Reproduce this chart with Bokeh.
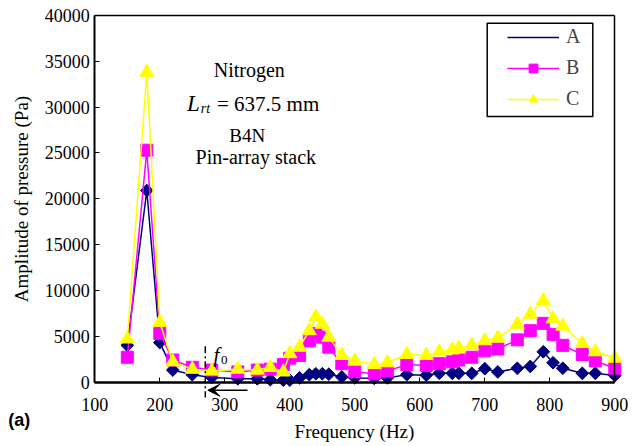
import numpy as np
from bokeh.plotting import figure
from bokeh.models import (Range1d, FixedTicker, Legend, LegendItem, Label,
                          Arrow, VeeHead, BoxAnnotation, LinearAxis)
from bokeh.embed import file_html
from bokeh.resources import INLINE

freq = [150, 180, 200, 220, 250, 280, 320, 350, 370, 390, 400, 415, 430, 440,
        450, 460, 480, 500, 530, 550, 580, 610, 630, 650, 660, 680, 700, 720,
        750, 770, 790, 805, 820, 850, 870, 900]
amp_a = [4000, 20900, 4300, 1300, 800, 500, 350, 350, 250, 200, 200, 450, 800,
         900, 900, 850, 550, 450, 400, 450, 800, 750, 950, 950, 950, 950, 1450,
         1100, 1500, 1700, 3300, 2100, 1500, 950, 950, 700]
amp_b = [2700, 25300, 5300, 2400, 1600, 1300, 1100, 1300, 1400, 1900, 2600,
         2900, 4500, 5300, 4900, 3800, 2000, 1100, 900, 1200, 1900, 1800, 2000,
         2200, 2400, 2700, 3400, 3600, 4600, 5600, 6400, 5200, 4000, 3000, 2300,
         1500]
amp_c = [4700, 33800, 6500, 2200, 1400, 1200, 1400, 1300, 1600, 1100, 3100,
         3800, 5600, 7100, 6300, 4900, 2900, 2300, 1900, 2100, 3000, 2900, 3300,
         3500, 3700, 4000, 4500, 4800, 6300, 7400, 8900, 6900, 6100, 4200, 3300,
         2600]
series_names = ["A", "B", "C"]
x_ticks = [100, 200, 300, 400, 500, 600, 700, 800, 900]
y_ticks = [0, 5000, 10000, 15000, 20000, 25000, 30000, 35000, 40000]
x_lim = (100, 900)
y_lim = (0, 40000)
f0 = 270

SERIF = "'Liberation Serif', 'Times New Roman', serif"
SANS = "'Liberation Sans', Arial, sans-serif"

# the frame spans the whole canvas; the axes sit at fixed locations so that
# texts below / left of the axes can be drawn as annotations
W, H = 642, 446
L0, R0, T0, B0 = 94.3, 614.3, 15.0, 381.5   # plotting box in pixels
kx = (x_lim[1] - x_lim[0]) / (R0 - L0)
ky = (y_lim[1] - y_lim[0]) / (B0 - T0)
xr = Range1d(x_lim[0] - L0 * kx, x_lim[1] + (W - R0) * kx)
yr = Range1d(y_lim[0] - (H - B0) * ky, y_lim[1] + T0 * ky)

p = figure(width=W, height=H, output_backend="svg", toolbar_location=None,
           x_range=xr, y_range=yr, min_border=0)
p.xgrid.visible = False
p.ygrid.visible = False
p.outline_line_alpha = 0

xa, ya = p.xaxis[0], p.yaxis[0]
xa.fixed_location = y_lim[0]
ya.fixed_location = x_lim[0]
xa.bounds = x_lim
ya.bounds = y_lim

for ax in (xa, ya):
    ax.major_tick_in = 5
    ax.major_tick_out = 0
    ax.minor_tick_in = 0
    ax.minor_tick_out = 0
    ax.axis_line_color = "black"
    ax.major_tick_line_color = "black"
    ax.major_label_text_font = SERIF
    ax.major_label_text_font_size = "18px"
    ax.major_label_text_color = "black"
    ax.axis_label_text_font = SERIF
    ax.axis_label_text_font_size = "19px"
    ax.axis_label_text_font_style = "normal"
    ax.axis_label_text_color = "black"

xa.ticker = FixedTicker(ticks=x_ticks)
ya.ticker = FixedTicker(ticks=y_ticks)
xa.axis_line_width = 2.5
ya.axis_line_width = 2
xa.major_label_standoff = 16
ya.major_label_standoff = 5
xa.axis_label = "Frequency (Hz)"
ya.axis_label = "Amplitude of pressure (Pa)"
xa.axis_label_standoff = 6
ya.axis_label_standoff = 10

# top and right edges of the box
top = LinearAxis(fixed_location=y_lim[1], bounds=x_lim,
                 ticker=FixedTicker(ticks=[]), axis_line_width=1.5,
                 major_label_text_alpha=0, major_tick_line_alpha=0,
                 minor_tick_line_alpha=0)
right = LinearAxis(fixed_location=x_lim[1], bounds=y_lim,
                   ticker=FixedTicker(ticks=[]), axis_line_width=1.5,
                   major_label_text_alpha=0, major_tick_line_alpha=0,
                   minor_tick_line_alpha=0)
p.add_layout(top, "above")
p.add_layout(right, "right")

col_a, col_b, col_c = "#000080", "#FF00FF", "#FFFF00"

la = p.line(freq, amp_a, line_color=col_a, line_width=1.5)
ma = p.scatter(freq, amp_a, marker="square", angle=np.pi / 4, size=9,
               fill_color=col_a, line_color=col_a)
lb = p.line(freq, amp_b, line_color=col_b, line_width=1.5)
mb = p.scatter(freq, amp_b, marker="square", size=12,
               fill_color=col_b, line_color=col_b)
lc = p.line(freq, amp_c, line_color=col_c, line_width=1.5)
mc = p.scatter(freq, amp_c, marker="triangle", size=14,
               fill_color=col_c, line_color=col_c)
# legend-only glyph for the diamond (legend markers are drawn unrotated)
ka = p.scatter([], [], marker="diamond", size=15, fill_color=col_a,
               line_color=col_a)

legend = Legend(items=[LegendItem(label=series_names[0], renderers=[la, ka]),
                       LegendItem(label=series_names[1], renderers=[lb, mb]),
                       LegendItem(label=series_names[2], renderers=[lc, mc])],
                location=(507, H - 110), padding=0, margin=0, spacing=8,
                glyph_width=52, glyph_height=22, label_height=22,
                label_standoff=7, label_text_font=SERIF,
                label_text_font_size="20px", border_line_alpha=0,
                background_fill_alpha=0)
p.add_layout(legend)

p.add_layout(BoxAnnotation(left=486.7, right=592.3, top=22.7, bottom=116,
                           left_units="canvas", right_units="canvas",
                           top_units="canvas", bottom_units="canvas",
                           fill_alpha=0, line_color="black", line_width=1.5,
                           line_alpha=1.0))

def lab(x, y, text, size, style="normal", font=SERIF):
    p.add_layout(Label(x=x, y=y, text=text, text_font=font,
                       text_font_size=size, text_font_style=style,
                       text_color="black", text_align="left",
                       text_baseline="alphabetic"))

lab(283, 34000, "Nitrogen", "20px")
lab(242, 30360, "L", "23px", "italic")
lab(263, 29850, "rt", "14px", "italic")
lab(288, 30360, "= 637.5 mm", "21px")
lab(307, 26900, "B4N", "19px")
lab(255, 24530, "Pin-array stack", "20px")
lab(282.5, 3000, "f", "21px", "italic")
lab(294, 2350, "0", "13px")
lab(-33, -4100, "(a)", "18px", "bold", SANS)

p.add_layout(Arrow(end=None, x_start=f0, y_start=3900, x_end=f0, y_end=-1700,
                   line_dash="7 3 2 3", line_width=1.5, line_color="black"))
p.add_layout(Arrow(end=VeeHead(size=12, fill_color="black", line_color="black"),
                   x_start=335, y_start=-900, x_end=f0 + 4, y_end=-900,
                   line_width=1.5, line_color="black"))

open("out.html", "w").write(file_html(p, INLINE))
